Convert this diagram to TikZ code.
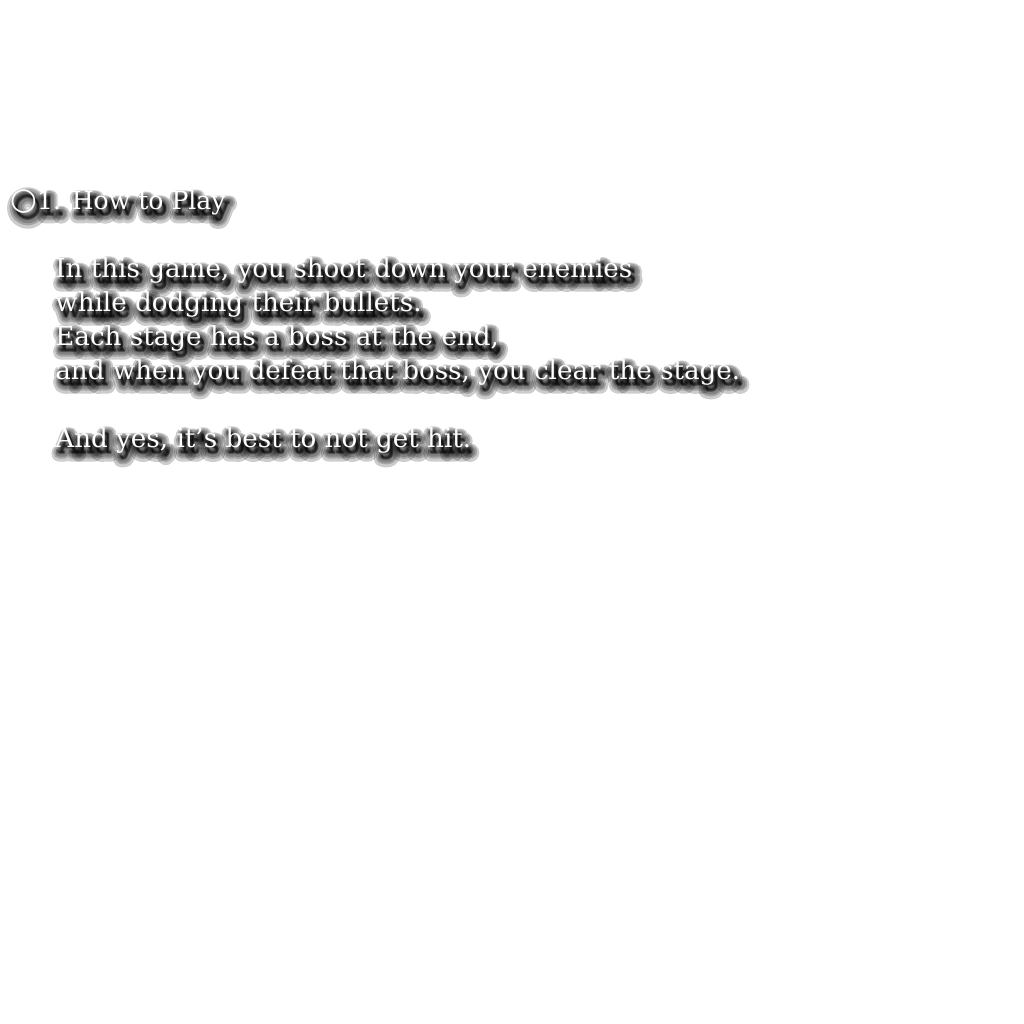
\documentclass[tikz,border=0pt]{standalone}
\usepackage{fontspec}
\setmainfont{DejaVu Serif}
\newfontfamily\symbolfont{DejaVu Sans}
% fattened faces for the soft drop shadow
\newfontfamily\haloA[FakeBold=6]{DejaVu Serif}
\newfontfamily\haloB[FakeBold=16]{DejaVu Serif}
\newfontfamily\haloC[FakeBold=28]{DejaVu Serif}
\newfontfamily\haloD[FakeBold=42]{DejaVu Serif}
\newfontfamily\haloE[FakeBold=58]{DejaVu Serif}
\newfontfamily\symhaloA[FakeBold=6]{DejaVu Sans}
\newfontfamily\symhaloB[FakeBold=16]{DejaVu Sans}
\newfontfamily\symhaloC[FakeBold=28]{DejaVu Sans}
\newfontfamily\symhaloD[FakeBold=42]{DejaVu Sans}
\newfontfamily\symhaloE[FakeBold=58]{DejaVu Sans}
\usetikzlibrary{positioning}

\tikzset{
  line/.style={anchor=base west, inner sep=0pt, font=\fontsize{14.9}{18}\selectfont},
  head line/.style={line, font=\fontsize{14.3}{17}\selectfont},
  halo/.style={text=black, opacity=#1, line join=round},
  lit/.style={text=white},
}
\newcommand\ring[1]{{#1\fontsize{17.5}{18}\selectfont ○}}
\newcommand\tick{\char"27\relax}

\begin{document}
\begin{tikzpicture}[x=0.02cm, y=-0.02cm]
 \useasboundingbox[fill=white] (0,0) rectangle (1024,1024);
 % drop shadow, stacked fattened layers
 \foreach \halofont/\symhalo/\dx/\dy in {\haloE/\symhaloE/4/7, \haloD/\symhaloD/4/6,
                                         \haloC/\symhaloC/4/6, \haloB/\symhaloB/3/5,
                                         \haloA/\symhaloA/3/5} {
   \node[head line, halo=0.2] at (10+\dx,209+\dy)
     {\halofont\ring{\symhalo}1. How to Play};
   \foreach \ypos/\txt in {277/{In this game, you shoot down your enemies},
                           311/{while dodging their bullets.},
                           345/{Each stage has a boss at the end,},
                           379/{and when you defeat that boss, you clear the stage.},
                           447/{And yes, it\tick s best to not get hit.}}
    \node[line, halo=0.2] at (55+\dx,\ypos+\dy) {\halofont\txt};
 }
 % the text itself
 \node[head line, lit] (title) at (10,209) {\ring{\symbolfont}1. How to Play};
 \node[line, lit] (game)   at (55,277) {In this game, you shoot down your enemies};
 \node[line, lit] (dodge)  at (55,311) {while dodging their bullets.};
 \node[line, lit] (boss)   at (55,345) {Each stage has a boss at the end,};
 \node[line, lit] (clear)  at (55,379) {and when you defeat that boss, you clear the stage.};
 \node[line, lit] (nohit)  at (55,447) {And yes, it\tick s best to not get hit.};
\end{tikzpicture}
\end{document}
